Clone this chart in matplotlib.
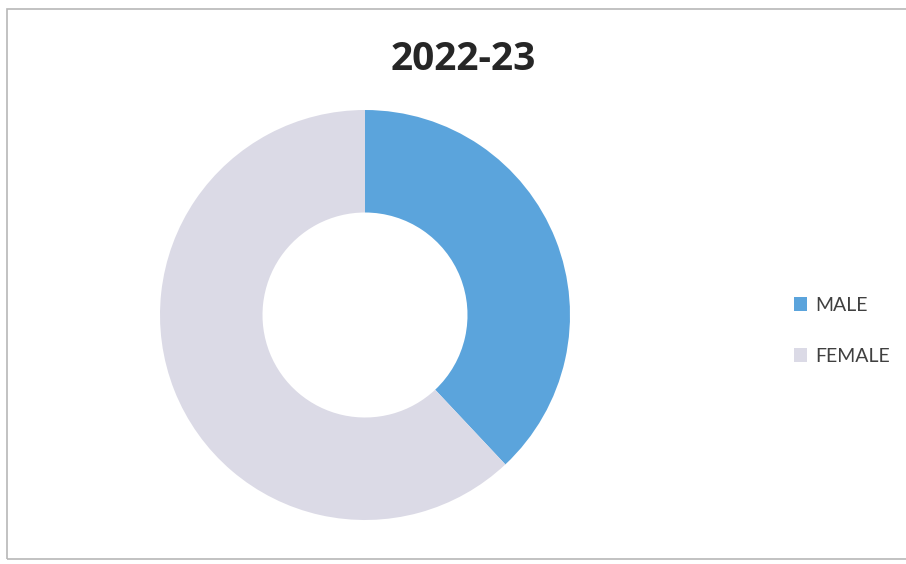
import matplotlib.pyplot as plt
from matplotlib.patches import Rectangle

title = '2022-23'
labels = ['MALE', 'FEMALE']
values = [38, 62]
colors = ['#5ba4dc', '#dbdae6']

fig = plt.figure(figsize=(9.06, 5.64), dpi=100)

# chart frame (light grey, right side runs off the page)
fig.patches.append(Rectangle((7 / 906, 5 / 564), 1.0, 550 / 564, transform=fig.transFigure,
                             fill=False, edgecolor='#b8b8b8', linewidth=1.2))

# donut centred ~ (365, 315) px, radius ~205 px
ax = fig.add_axes([160 / 906, (564 - 520) / 564, 410 / 906, 410 / 564])
wedges, _ = ax.pie(values, colors=colors, startangle=90, counterclock=False,
                   radius=1.0, wedgeprops=dict(width=0.5, edgecolor='none'))
ax.set_xlim(-1, 1)
ax.set_ylim(-1, 1)
ax.set_aspect('equal')
ax.axis('off')

fig.text(463 / 906, 1 - 60 / 564, title, ha='center', va='center',
         fontsize=28, fontweight='bold', family='Open Sans', color='#262626')

leg = fig.legend(wedges, labels, loc='center left', bbox_to_anchor=(776 / 906, 1 - 331 / 564),
                 frameon=False, handlelength=0.7, handleheight=0.7, handletextpad=0.4,
                 labelspacing=1.75, prop={'family': 'Lato', 'size': 14})
for t in leg.get_texts():
    t.set_color('#404040')

fig.savefig('out.png', dpi=100)
